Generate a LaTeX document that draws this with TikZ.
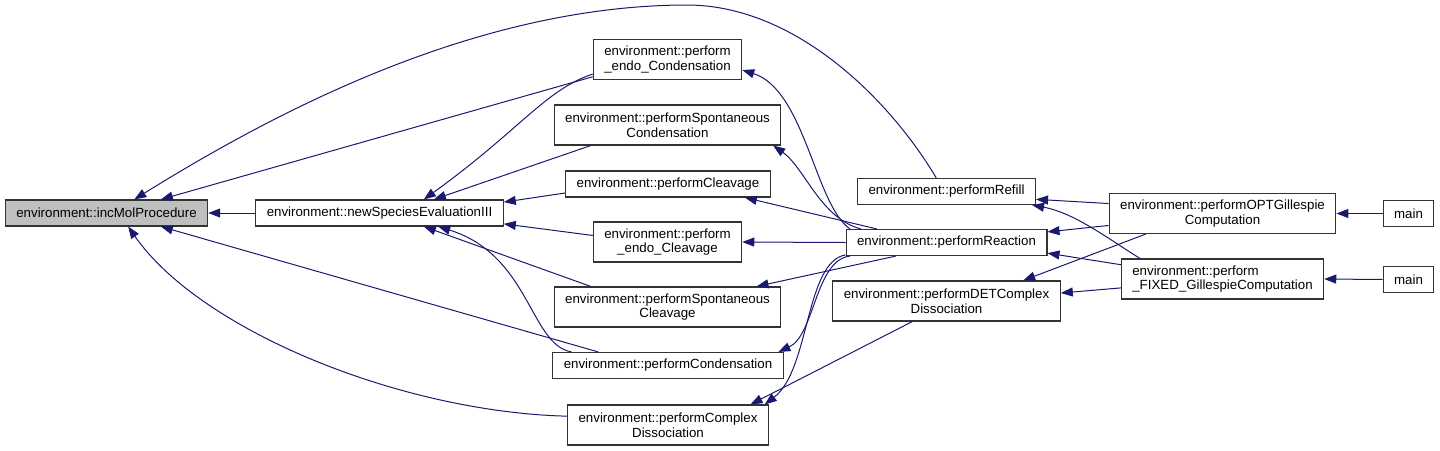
\documentclass[tikz,border=0pt]{standalone}
\usepackage{fontspec}
\setmainfont{Liberation Sans}
\usetikzlibrary{arrows.meta}
\definecolor{callblue}{HTML}{191970}
\definecolor{focusgray}{HTML}{BFBFBF}

\begin{document}
\begin{tikzpicture}[x=1pt, y=-1pt, fn/.style={draw=black!80, line width=1.1pt, fill=white, inner xsep=11pt, inner ysep=3pt, minimum height=26pt, font=\fontsize{13.3}{14.5}\selectfont}, two/.style={align=center, minimum height=40pt}, call/.style={draw=callblue, line width=1pt, -{Triangle[length=12pt,width=9pt]}}]
	\useasboundingbox (0,0) rectangle (1440,450);
	% function boxes
	\node[fn, fill=focusgray] (incmol) at (106.5,213) {environment::incMolProcedure};
	\node[fn] (newspecies) at (379.5,213) {environment::newSpeciesEvaluationIII};
	\node[fn, two] (endocond) at (667.5,59.5) {environment::perform\\\_endo\_Condensation};
	\node[fn, two] (spontcond) at (667.5,125) {environment::performSpontaneous\\Condensation};
	\node[fn] (cleavage) at (668,184) {environment::performCleavage};
	\node[fn, two] (endocleav) at (667.5,242) {environment::perform\\\_endo\_Cleavage};
	\node[fn, two] (spontcleav) at (667.5,307) {environment::performSpontaneous\\Cleavage};
	\node[fn] (condensation) at (668,365.5) {environment::performCondensation};
	\node[fn, two] (complexdiss) at (668,425) {environment::performComplex\\Dissociation};
	\node[fn] (refill) at (946.5,191.5) {environment::performRefill};
	\node[fn] (reaction) at (946.5,242.5) {environment::performReaction};
	\node[fn, two] (detcomplex) at (946.5,301) {environment::performDETComplex\\Dissociation};
	\node[fn, two] (optgill) at (1222.5,213.5) {environment::performOPTGillespie\\Computation};
	\node[fn, two, align=left] (fixedgill) at (1222.5,279) {environment::perform\\\_FIXED\_GillespieComputation};
	\node[fn] (mainopt) at (1408.5,213.5) {main};
	\node[fn] (mainfixed) at (1408.5,279.5) {main};
	% calls into incMolProcedure
	\draw[call] (newspecies.west) -- (incmol.east);
	\draw[call] (endocond.193) -- (incmol.14);
	\draw[call] (refill.127) .. controls (890,100) and (795,4) .. (685,5) .. controls (480,6) and (283,107) .. (incmol.26);
	\draw[call] (condensation.169) -- (incmol.-14);
	\draw[call] (complexdiss.175) .. controls (400,412) and (200,330) .. (incmol.-32);
	% calls into newSpeciesEvaluationIII
	\draw[call] (endocond.191) .. controls (545,90) and (520,130) .. (newspecies.17);
	\draw[call] (spontcond.195) -- (newspecies.14);
	\draw[call] (cleavage.185) -- (newspecies.5);
	\draw[call] (endocleav.175) -- (newspecies.-5);
	\draw[call] (spontcleav.165) -- (newspecies.-17);
	\draw[call] (condensation.172) .. controls (530,345) and (530,255) .. (newspecies.-13);
	% performReaction
	\draw[call] (reaction.172) .. controls (815,205) and (805,90) .. (endocond.-8);
	\draw[call] (reaction.171) .. controls (820,218) and (805,168) .. (spontcond.-11);
	\draw[call] (reaction.169) -- (cleavage.-10);
	\draw[call] (reaction.west) -- (endocleav.east);
	\draw[call] (reaction.195) -- (spontcleav.13);
	\draw[call] (reaction.188) .. controls (815,260) and (815,335) .. (condensation.7);
	\draw[call] (reaction.187) .. controls (805,262) and (810,370) .. (complexdiss.12);
	\draw[call] (detcomplex.211) -- (complexdiss.14);
	% Gillespie drivers
	\draw[call] (optgill.175) -- (refill.-5);
	\draw[call] (optgill.186) -- (reaction.6);
	\draw[call] (optgill.195) -- (detcomplex.15);
	\draw[call] (fixedgill.166) .. controls (1110,240) and (1075,213) .. (refill.-9);
	\draw[call] (fixedgill.172) -- (reaction.-6);
	\draw[call] (fixedgill.185) -- (detcomplex.4);
	\draw[call] (mainopt.west) -- (optgill.east);
	\draw[call] (mainfixed.west) -- (fixedgill.east);
\end{tikzpicture}
\end{document}
